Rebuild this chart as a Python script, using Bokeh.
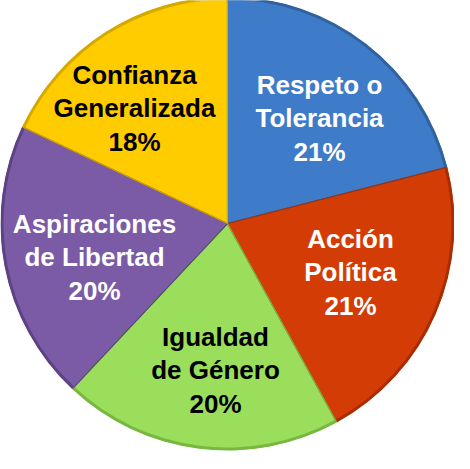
import math
from bokeh.plotting import figure
from bokeh.models import Range1d, ColumnDataSource
from bokeh.core.properties import value
from bokeh.embed import file_html
from bokeh.resources import INLINE

categories = ["Respeto o\nTolerancia", "Acción\nPolítica", "Igualdad\nde Género",
              "Aspiraciones\nde Libertad", "Confianza\nGeneralizada"]
values = [21, 21, 20, 20, 18]
colors = ["#3e7bc8", "#d43c05", "#9ade5c", "#7b5aa6", "#ffcc00"]
rim_colors = ["#30639f", "#a82e02", "#78b840", "#5d4384", "#d6a900"]
text_colors = ["white", "white", "black", "white", "black"]
label_pos = [(92, 105), (123, -49), (-12, -147), (-133, -34), (-93, 115)]

total = sum(values)
starts, ends = [], []
cum = 0.0
for v in values:
    starts.append(math.pi / 2 - 2 * math.pi * cum / total)
    cum += v
    ends.append(math.pi / 2 - 2 * math.pi * cum / total)

W, H = 454, 453
p = figure(width=W, height=H, output_backend="svg", toolbar_location=None,
           x_range=Range1d(-227, 227), y_range=Range1d(-230, 223),
           min_border=0)
p.axis.visible = False
p.grid.visible = False
p.outline_line_color = None
p.background_fill_color = "white"

R = 227
src = ColumnDataSource(dict(start=starts, end=ends, color=colors, rim=rim_colors))
p.wedge(x=0, y=0, radius=R, start_angle="start", end_angle="end", direction="clock",
        fill_color="rim", line_color=None, source=src)
p.wedge(x=0, y=0, radius=R - 3, start_angle="start", end_angle="end", direction="clock",
        fill_color="color", line_color=None, source=src)
# separators
p.wedge(x=0, y=0, radius=R - 1, start_angle="start", end_angle="end", direction="clock",
        fill_color=None, line_color="rim", line_width=1.2, source=src)

labels = [f"{c}\n{v}%" for c, v in zip(categories, values)]
tsrc = ColumnDataSource(dict(x=[q[0] for q in label_pos], y=[q[1] for q in label_pos],
                             text=labels, color=text_colors))
p.text(x="x", y="y", text="text", source=tsrc, text_color="color",
       text_font=value("Liberation Sans"), text_font_style="bold",
       text_font_size="26px", text_align="center", text_baseline="middle",
       text_line_height=1.11)

open("out.html", "w").write(file_html(p, INLINE))
